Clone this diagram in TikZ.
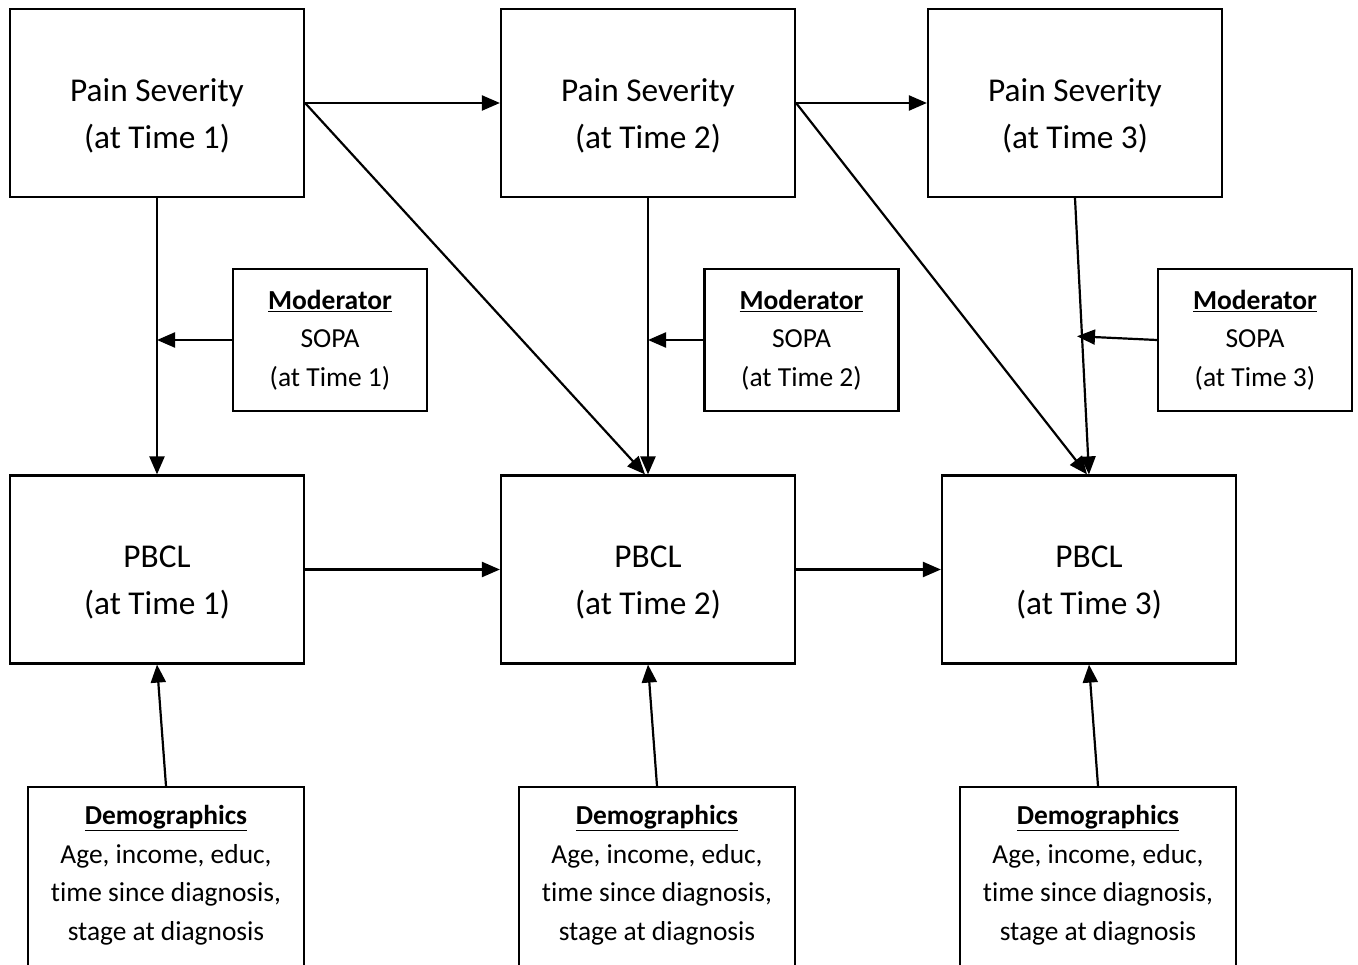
\documentclass[tikz,border=0pt]{standalone}
\usepackage{fontspec}
\setmainfont{Carlito}[Ligatures=NoCommon]
\usetikzlibrary{arrows.meta,calc}
\begin{document}
\begin{tikzpicture}[x=1pt,y=-1pt,
  bigbox/.style={draw,line width=2.2pt,minimum width=294pt,minimum height=188pt,inner sep=0pt},
  modbox/.style={draw,line width=2.2pt,minimum width=194pt,minimum height=142pt,inner sep=0pt,align=center,
     font=\fontsize{27.5}{38.5}\selectfont},
  demobox/.style={draw,line width=2.2pt,minimum width=276pt,minimum height=240pt,inner sep=0pt,anchor=north},
  bigtext/.style={align=center,font=\fontsize{33.3}{47}\selectfont,yshift=-13pt},
  demotext/.style={align=center,font=\fontsize{27.4}{38.5}\selectfont},
  arr/.style={line width=2.2pt,-{Triangle[length=18pt,width=15pt]}}]
\useasboundingbox (0,0) rectangle (1358,965);
\clip (0,0) rectangle (1358,965);
% top row
\node[bigbox,label={[bigtext]center:Pain Severity\\(at Time 1)}] (ps1) at (157,103) {};
\node[bigbox,label={[bigtext]center:Pain Severity\\(at Time 2)}] (ps2) at (648,103) {};
\node[bigbox,label={[bigtext]center:Pain Severity\\(at Time 3)}] (ps3) at (1075,103) {};
% moderators
\node[modbox] (m1) at (330,340) {\textbf{\underline{Moderator}}\\SOPA\\(at Time 1)};
\node[modbox] (m2) at (801.5,340) {\textbf{\underline{Moderator}}\\SOPA\\(at Time 2)};
\node[modbox] (m3) at (1255,340) {\textbf{\underline{Moderator}}\\SOPA\\(at Time 3)};
% PBCL row
\node[bigbox,label={[bigtext]center:PBCL\\(at Time 1)}] (p1) at (157,569.5) {};
\node[bigbox,label={[bigtext]center:PBCL\\(at Time 2)}] (p2) at (648,569.5) {};
\node[bigbox,label={[bigtext]center:PBCL\\(at Time 3)}] (p3) at (1089,569.5) {};
% demographics
\node[demobox,label={[demotext,yshift=32pt]center:\textbf{\underline{Demographics}}\\Age, income, educ,\\time since diagnosis,\\stage at diagnosis}] (d1) at (166,786) {};
\node[demobox,label={[demotext,yshift=32pt]center:\textbf{\underline{Demographics}}\\Age, income, educ,\\time since diagnosis,\\stage at diagnosis}] (d2) at (657,786) {};
\node[demobox,label={[demotext,yshift=32pt]center:\textbf{\underline{Demographics}}\\Age, income, educ,\\time since diagnosis,\\stage at diagnosis}] (d3) at (1098,786) {};
% coordinates on vertical paths
\coordinate (c1) at (ps1.south |- m1.west);
\coordinate (c2) at (ps2.south |- m2.west);
\coordinate (c3) at ($(ps3.south)!0.5!(p3.north)$);
% arrows
\draw[arr] (ps1.east) -- (ps2.west);
\draw[arr] (ps2.east) -- (ps3.west);
\draw[arr] (ps1.east) -- ($(p2.north)+(-3,0)$);
\draw[arr] (ps2.east) -- ($(p3.north)+(-2,0)$);
\draw[arr] (ps1.south) -- (p1.north);
\draw[arr] (ps2.south) -- (p2.north);
\draw[arr] (ps3.south) -- (p3.north);
\draw[arr] (m1.west) -- (c1);
\draw[arr] (m2.west) -- (c2);
\draw[arr] (m3.west) -- ($(c3)+(-5,0)$);
\draw[arr] (p1.east) -- (p2.west);
\draw[arr] (p2.east) -- (p3.west);
\draw[arr] (d1.north) -- (p1.south);
\draw[arr] (d2.north) -- (p2.south);
\draw[arr] (d3.north) -- (p3.south);
\end{tikzpicture}
\end{document}
